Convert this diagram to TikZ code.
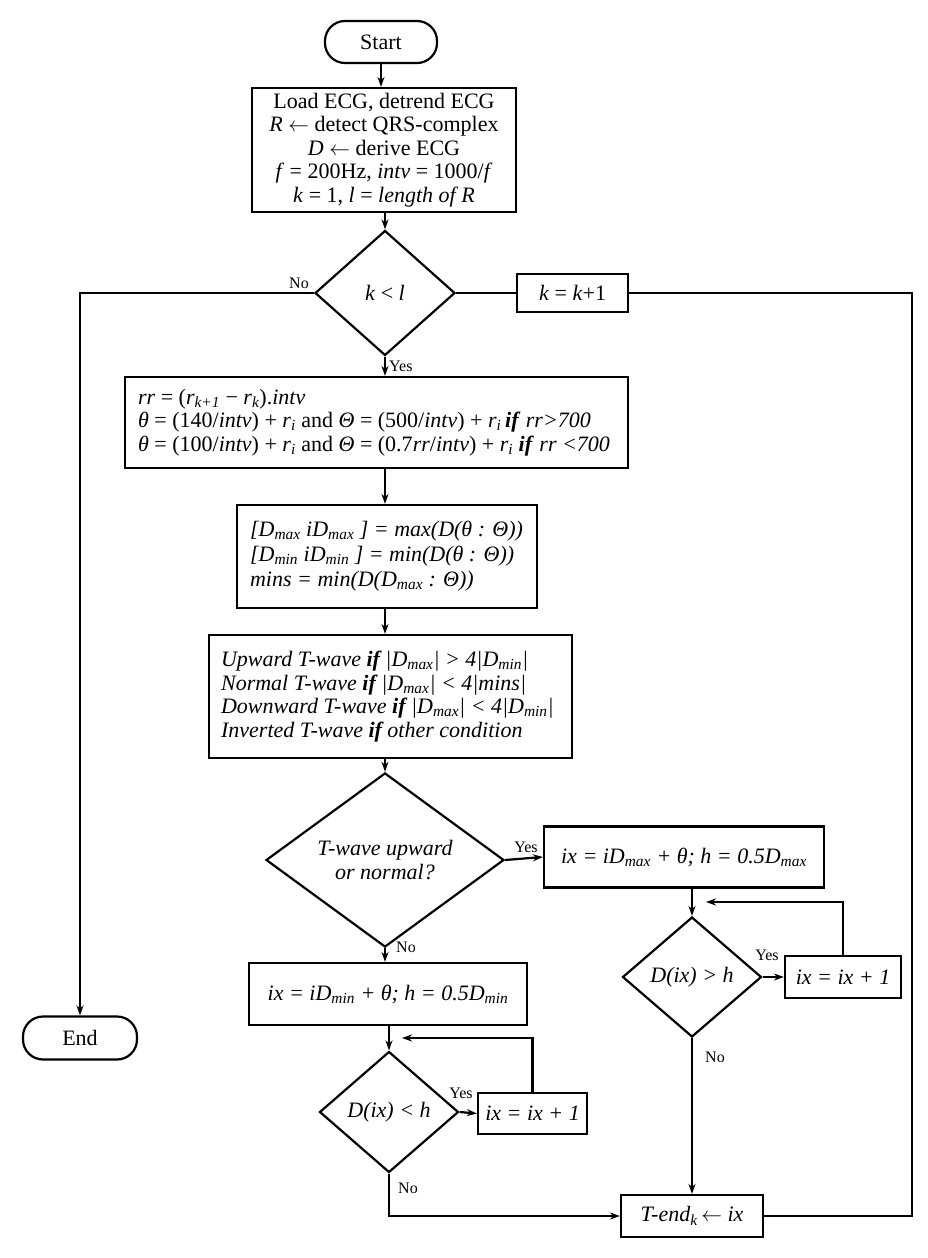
\documentclass[tikz,border=0pt]{standalone}
\usepackage{fontspec}
\setmainfont{Liberation Serif}
\usetikzlibrary{shapes.geometric,arrows.meta}
\newcommand\mysub[1]{\textsubscript{\itshape #1}}
\newcommand\bif{\textbf{\textit{if}}}
\newcommand\larr{\ensuremath{\leftarrow}}
\begin{document}
\begin{tikzpicture}[x=1pt,y=-1pt,
  every node/.style={font=\fontsize{22}{23.5}\selectfont},
  itf/.style={font=\fontsize{22}{23.5}\selectfont\itshape},
  box/.style={draw,line width=2.2pt,inner sep=0pt,align=center},
  txt/.style={inner sep=0pt,align=left,anchor=west},
  dec/.style={draw,diamond,line width=2.2pt,inner sep=0pt,align=center},
  term/.style={draw,rounded corners=20pt,line width=2.2pt,inner sep=0pt},
  lbl/.style={font=\fontsize{16}{18}\selectfont,inner sep=0pt},
  link/.style={line width=2.2pt},
  arr/.style={link,-{Stealth[length=10pt,width=7pt]}}]
\useasboundingbox (0,0) rectangle (928,1258);

\node[term,minimum width=112pt,minimum height=42pt] (start) at (381,42) {Start};
\node[box,minimum width=264pt,minimum height=124pt] (init) at (384,150)
  {Load ECG, detrend ECG\\\textit{R} \larr\ detect QRS-complex\\\textit{D} \larr\ derive ECG\\\textit{f} = 200Hz, \textit{intv} = 1000/\textit{f}\\\textit{k} = 1, \textit{l} = \textit{length of R}};
\node[dec,minimum width=140pt,minimum height=125pt] (d1) at (385,293) {\textit{k} < \textit{l}};
\node[box,minimum width=111pt,minimum height=38pt] (kk) at (572.5,293) {\textit{k} = \textit{k}+1};

\node[box,minimum width=503pt,minimum height=91pt] (rr) at (376.5,422.5) {};
\node[txt] (rrt) at ([xshift=14pt]rr.west)
  {\textit{rr} = (\textit{r}\mysub{k+1} − \textit{r}\mysub{k}).\textit{intv}\\
   \textit{θ} = (140/\textit{intv}) + \textit{r}\mysub{i} and \textit{Θ} = (500/\textit{intv}) + \textit{r}\mysub{i}\,\bif\ \textit{rr>700}\\
   \textit{θ} = (100/\textit{intv}) + \textit{r}\mysub{i} and \textit{Θ} = (0.7\textit{rr}/\textit{intv}) + \textit{r}\mysub{i} \bif\ \textit{rr <700}};

\node[box,minimum width=300pt,minimum height=103pt] (dmax) at (387,556.5) {};
\node[txt,itf,font=\fontsize{22}{25}\selectfont\itshape] (dmaxt) at ([xshift=14pt]dmax.west)
  {{[}D\mysub{max} iD\mysub{max} {]} = max(D(θ : Θ))\\
   {[}D\mysub{min} iD\mysub{min} {]} = min(D(θ : Θ))\\
   mins = min(D(D\mysub{max} : Θ))};

\node[box,minimum width=363pt,minimum height=123pt] (tw) at (390.5,696.5) {};
\node[txt,itf] (twt) at ([xshift=13pt]tw.west)
  {Upward T-wave \textbf{if} |D\mysub{max}| > 4|D\mysub{min}|\\
   Normal T-wave \textbf{if} |D\mysub{max}| < 4|mins|\\
   Downward T-wave \textbf{if} |D\mysub{max}| < 4|D\mysub{min}|\\
   Inverted T-wave \textbf{if} other condition};

\node[dec,itf,minimum width=238pt,minimum height=150pt] (d2) at (385,860)
  {T-wave upward\\or normal?};
\node[box,itf,minimum width=280pt,minimum height=61pt] (ixmax) at (684,857)
  {ix = iD\mysub{max} + θ; h = 0.5D\mysub{max}};
\node[dec,itf,minimum width=139pt,minimum height=120pt] (d3) at (692,977) {D(ix) > h};
\node[box,itf,minimum width=116pt,minimum height=42pt] (ix1r) at (843,977) {ix = ix + 1};
\node[box,itf,minimum width=278pt,minimum height=62pt] (ixmin) at (388,994)
  {ix = iD\mysub{min} + θ; h = 0.5D\mysub{min}};
\node[dec,itf,minimum width=139pt,minimum height=121pt] (d4) at (389,1112) {D(ix) < h};
\node[box,itf,minimum width=109pt,minimum height=41pt] (ix1l) at (532.5,1113.5) {ix = ix + 1};
\node[box,itf,minimum width=142pt,minimum height=42pt] (tend) at (692,1216) {T-end\mysub{k}\,\larr\ ix};
\node[term,minimum width=114pt,minimum height=43pt] (end) at (80,1038) {End};

\coordinate (rc) at (912,293);
\coordinate (lr) at (706,902);
\coordinate (ll) at (402,1038);

\draw[arr] (start.south) -- (start.south |- init.north);
\draw[arr] (d1.north |- init.south) -- (d1.north);
\draw[link] (d1.east) -- (kk.west);
\draw[link] (tend.east) -| (rc) -- (kk.east);
\draw[arr] (d1.west) -| (end.north);
\node[lbl] (no1) at (299,283) {No};
\draw[arr] (d1.south) -- (d1.south |- rr.north);
\node[lbl,anchor=west] (yes1) at (389,366) {Yes};
\draw[arr] (d1.south |- rr.south) -- (d1.south |- dmax.north);
\draw[arr] (d1.south |- dmax.south) -- (d1.south |- tw.north);
\draw[arr] (d1.south |- tw.south) -- (d2.north);
\draw[arr] (d2.east) -- (ixmax.west);
\node[lbl] (yes2) at (526,847) {Yes};
\draw[arr] (d2.south) -- (d2.south |- ixmin.north);
\node[lbl] (no2) at (406,947) {No};
\draw[arr] (d3.north |- ixmax.south) -- (d3.north);
\draw[arr] (d3.east) -- (ix1r.west);
\node[lbl] (yes3) at (767,955) {Yes};
\draw[arr] (ix1r.north) |- (lr);
\draw[arr] (d3.south) -- (tend.north);
\node[lbl] (no3) at (715,1057) {No};
\draw[arr] (d4.north |- ixmin.south) -- (d4.north);
\draw[arr] (d4.east) -- (ix1l.west);
\node[lbl] (yes4) at (461,1093) {Yes};
\draw[arr] (ix1l.north) |- (ll);
\draw[arr] (d4.south) |- (tend.west);
\node[lbl] (no4) at (408,1188) {No};
\end{tikzpicture}
\end{document}
